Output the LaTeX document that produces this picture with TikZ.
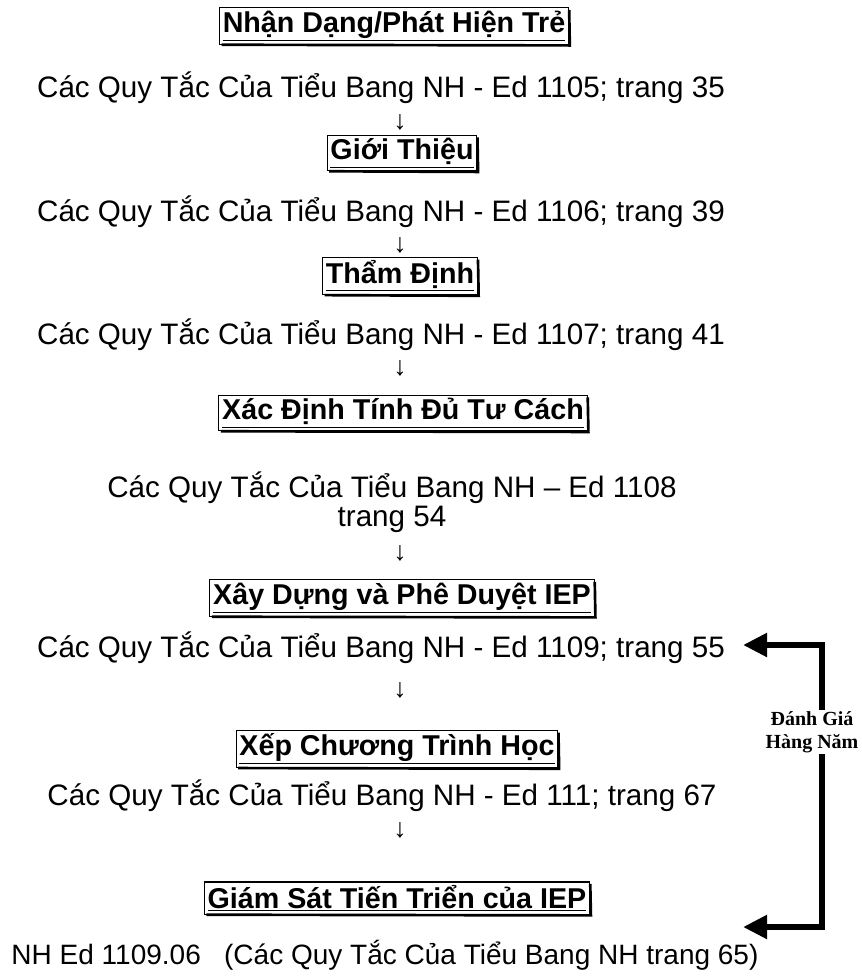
\documentclass[tikz,border=0pt]{standalone}
\usepackage{fontspec}
\setmainfont{Liberation Sans}
\newfontfamily\lblfont{Liberation Serif}
\usetikzlibrary{arrows.meta}
\newcommand\reffont{\fontsize{22.2}{22}\selectfont}
\newcommand\hdrfont{\fontsize{21.5}{26}\selectfont\bfseries}
\tikzset{
  hdr/.style  = {rectangle, draw=black, line width=0.9pt, fill=white,
                 inner xsep=2.5pt, inner ysep=2.3pt, font=\hdrfont},
  ref/.style  = {font=\reffont, align=center, inner sep=0pt},
  dn/.style   = {font=\fontsize{20}{20}\selectfont, inner sep=0pt},
  loopback/.style = {-{Triangle[length=18pt,width=17pt]}, line width=5.2pt},
  lbl/.style  = {font=\lblfont\fontsize{15}{17}\selectfont\bfseries,
                 align=center, fill=white, inner sep=1pt},
}
\begin{document}
\begin{tikzpicture}[x=0.75pt, y=-0.75pt]
  \useasboundingbox (0,0) rectangle (862,978);

  % steps
  \node[hdr] (ident)  at (394,26)  {\underline{Nhận Dạng/Phát Hiện Trẻ}};
  \node[ref] (r1)     at (381,88)  {Các Quy Tắc Của Tiểu Bang NH - Ed 1105; trang 35};
  \node[dn]  (d1)     at (400,122) {↓};
  \node[hdr] (refer)  at (402,153) {\underline{Giới Thiệu}};
  \node[ref] (r2)     at (381,212) {Các Quy Tắc Của Tiểu Bang NH - Ed 1106; trang 39};
  \node[dn]  (d2)     at (400,245) {↓};
  \node[hdr] (eval)   at (400,276) {\underline{Thẩm Định}};
  \node[ref] (r3)     at (381,335) {Các Quy Tắc Của Tiểu Bang NH - Ed 1107; trang 41};
  \node[dn]  (d3)     at (400,368) {↓};
  \node[hdr] (elig)   at (403,413) {\underline{Xác Định Tính Đủ Tư Cách}};
  \node[ref] (r4)     at (392,502) {Các Quy Tắc Của Tiểu Bang NH – Ed 1108\\trang 54};
  \node[dn]  (d4)     at (400,553) {↓};
  \node[hdr] (iep)    at (402,598) {\underline{Xây Dựng và Phê Duyệt IEP}};
  \node[ref] (r5)     at (381,648) {Các Quy Tắc Của Tiểu Bang NH - Ed 1109; trang 55};
  \node[dn]  (d5)     at (400,690) {↓};
  \node[hdr] (place)  at (397,749) {\underline{Xếp Chương Trình Học}};
  \node[ref] (r6)     at (382,796) {Các Quy Tắc Của Tiểu Bang NH - Ed 111; trang 67};
  \node[dn]  (d6)     at (400,830) {↓};
  \node[hdr] (monit)  at (397,898) {\underline{Giám Sát Tiến Triển của IEP}};
  \node[ref, font=\fontsize{21}{22}\selectfont] (r7) at (385,955)
    {NH Ed 1109.06\ \ \ (Các Quy Tắc Của Tiểu Bang NH trang 65)};

  % heavier bottom/right edge of the boxes
  \foreach \n in {ident,refer,eval,elig,iep,place,monit}
    \draw[line width=2pt] ([xshift=2pt]\n.south west) -- ([xshift=0.5pt,yshift=-0.5pt]\n.south east)
      -- ([yshift=-2pt]\n.north east);

  % annual review loop
  \coordinate (topend) at (743,645);
  \coordinate (topcrn) at (822,645);
  \coordinate (botcrn) at (822,927);
  \coordinate (botend) at (743,927);
  \draw[loopback] (botcrn) -- (topcrn) -- (topend);
  \draw[loopback] (topcrn) -- (botcrn) -- (botend);
  \node[lbl] (annual) at (812,732) {Đánh Giá\\Hàng Năm};

\end{tikzpicture}
\end{document}
